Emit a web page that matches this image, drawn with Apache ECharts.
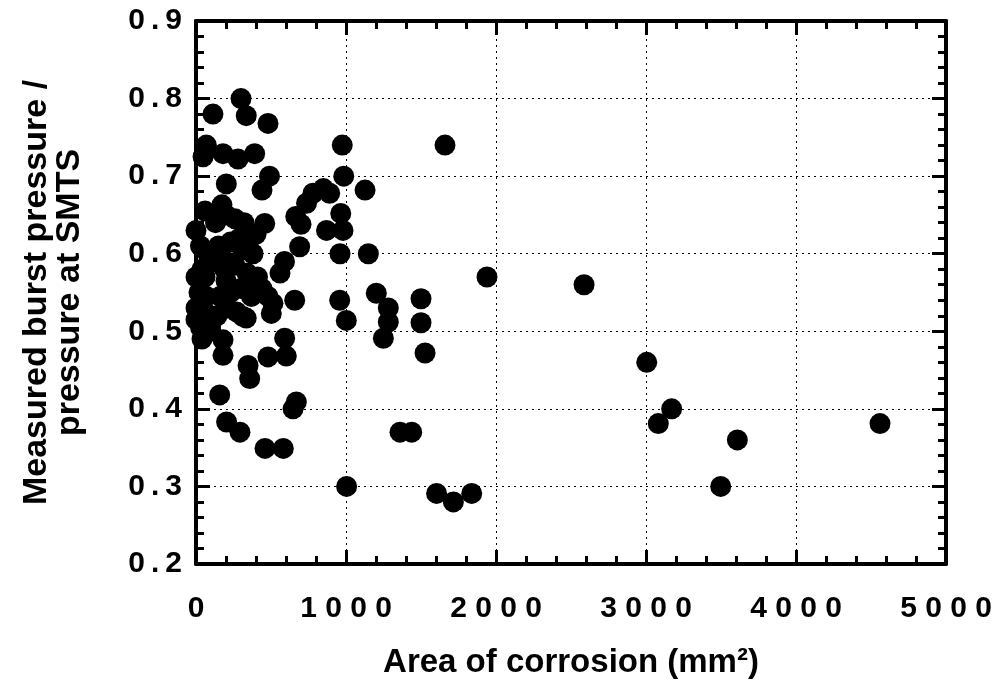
<!DOCTYPE html>
<html>
<head>
<meta charset="UTF-8">
<script src="https://cdn.jsdelivr.net/npm/echarts@6/dist/echarts.min.js"></script>
<style>
  html, body { margin: 0; padding: 0; background: #fff; }
  #chart { width: 1008px; height: 691px; }
</style>
</head>
<body>
<div id="chart"></div>
<script>
// corrosion area (mm2) and burst pressure ratio
var corrosionArea = [
  300, 113, 335, 480, 47, 69, 180, 280, 391, 202, 490, 440, 975, 1660,
  1127, 985, 780, 849, 891, 737, 965, 665, 700, 870, 980, 960, 1149, 691, 590, 560, 458,
  0, 30, 173, 130, 200, 260, 320, 400, 80, 150, 230, 310, 380, 40, 110, 190, 260, 340, 410,
  20, 70, 160, 230, 300, 370, 440, 60, 140, 210, 270, 30, 100, 513, 367, 658, 480,
  60, 290, 350, 120, 200, 0, 0, 200, 313, 0, 40, 100, 60,
  502, 335, 180, 180, 347, 358, 480, 591, 602, 158, 204, 293, 669, 647, 460, 582,
  958, 1002, 1202, 1282, 1282, 1249, 1500, 1500, 1527, 1360, 1438, 1004, 1604, 1716, 1838,
  1940, 2587, 3005, 3082, 3171, 3498, 3609, 4560
];
var burstRatio = [
  0.80, 0.78, 0.778, 0.768, 0.725, 0.74, 0.729, 0.722, 0.729, 0.69, 0.70, 0.682, 0.74, 0.74,
  0.682, 0.70, 0.678, 0.684, 0.678, 0.665, 0.652, 0.648, 0.638, 0.63, 0.63, 0.60, 0.60, 0.609, 0.59, 0.575, 0.639,
  0.63, 0.61, 0.663, 0.64, 0.65, 0.645, 0.64, 0.625, 0.60, 0.61, 0.615, 0.605, 0.60, 0.58, 0.59, 0.58, 0.585, 0.575, 0.57,
  0.55, 0.545, 0.545, 0.55, 0.555, 0.545, 0.555, 0.525, 0.52, 0.53, 0.525, 0.505, 0.50, 0.536, 0.553, 0.54, 0.545,
  0.655, 0.62, 0.615, 0.59, 0.59, 0.57, 0.53, 0.565, 0.519, 0.515, 0.49, 0.51, 0.57,
  0.523, 0.517, 0.489, 0.469, 0.456, 0.439, 0.467, 0.491, 0.468, 0.418, 0.383, 0.37, 0.409, 0.40, 0.349, 0.349,
  0.54, 0.514, 0.549, 0.53, 0.512, 0.491, 0.542, 0.511, 0.472, 0.37, 0.37, 0.30, 0.291, 0.28, 0.291,
  0.57, 0.56, 0.46, 0.381, 0.40, 0.30, 0.36, 0.381
];
var xTicks = [0, 1000, 2000, 3000, 4000, 5000];
var yTicks = [0.2, 0.3, 0.4, 0.5, 0.6, 0.7, 0.8, 0.9];

var pts = [];
for (var i = 0; i < corrosionArea.length; i++) {
  pts.push([corrosionArea[i], burstRatio[i]]);
}

var font = '"Liberation Sans", Arial, sans-serif';

var tickStyle = { show: true, inside: true, length: 14, lineStyle: { color: '#000', width: 3 } };
var minorStyle = { show: true, splitNumber: 5, length: 8, lineStyle: { color: '#000', width: 3 } };
var gridLines = { show: true, lineStyle: { color: '#000', type: [2, 4], width: 1 } };
var frame = { show: true, onZero: false, lineStyle: { color: '#000', width: 4 } };

var ec = echarts.init(document.getElementById('chart'));
ec.setOption({
  animation: false,
  backgroundColor: '#fff',
  grid: { left: 196, right: 62, top: 21, bottom: 127 },
  xAxis: [{
    type: 'value', min: xTicks[0], max: xTicks[xTicks.length - 1], interval: 1000,
    position: 'bottom',
    name: 'Area of corrosion (mm²)', nameLocation: 'middle', nameGap: 82,
    nameTextStyle: { fontFamily: font, fontWeight: 'bold', fontSize: 33, color: '#000' },
    axisLine: frame, axisTick: tickStyle, minorTick: minorStyle, splitLine: gridLines,
    axisLabel: { margin: 30, fontFamily: font, fontWeight: 'bold', fontSize: 30, color: '#000',
      formatter: function (v) { return String(v).split('').join(' '); } }
  }, {
    type: 'value', min: xTicks[0], max: xTicks[xTicks.length - 1], interval: 1000,
    position: 'top',
    axisLine: frame, axisTick: tickStyle, minorTick: minorStyle,
    splitLine: { show: false }, axisLabel: { show: false }
  }],
  yAxis: [{
    type: 'value', min: yTicks[0], max: yTicks[yTicks.length - 1], interval: 0.1,
    position: 'left',
    name: 'Measured burst pressure /\npressure at SMTS', nameLocation: 'middle', nameGap: 110,
    nameTextStyle: { fontFamily: font, fontWeight: 'bold', fontSize: 34, lineHeight: 33, color: '#000' },
    axisLine: frame, axisTick: tickStyle, minorTick: minorStyle, splitLine: gridLines,
    axisLabel: { margin: 14, fontFamily: font, fontWeight: 'bold', fontSize: 30, color: '#000',
      formatter: function (v) { return v.toFixed(1).split('').join('\u2009'); } }
  }, {
    type: 'value', min: yTicks[0], max: yTicks[yTicks.length - 1], interval: 0.1,
    position: 'right',
    axisLine: frame, axisTick: tickStyle, minorTick: minorStyle,
    splitLine: { show: false }, axisLabel: { show: false }
  }],
  series: [{
    type: 'scatter',
    xAxisIndex: 0, yAxisIndex: 0,
    symbol: 'circle', symbolSize: 21,
    itemStyle: { color: '#000', opacity: 1 },
    clip: false,
    data: pts
  }]
});
</script>
</body>
</html>
